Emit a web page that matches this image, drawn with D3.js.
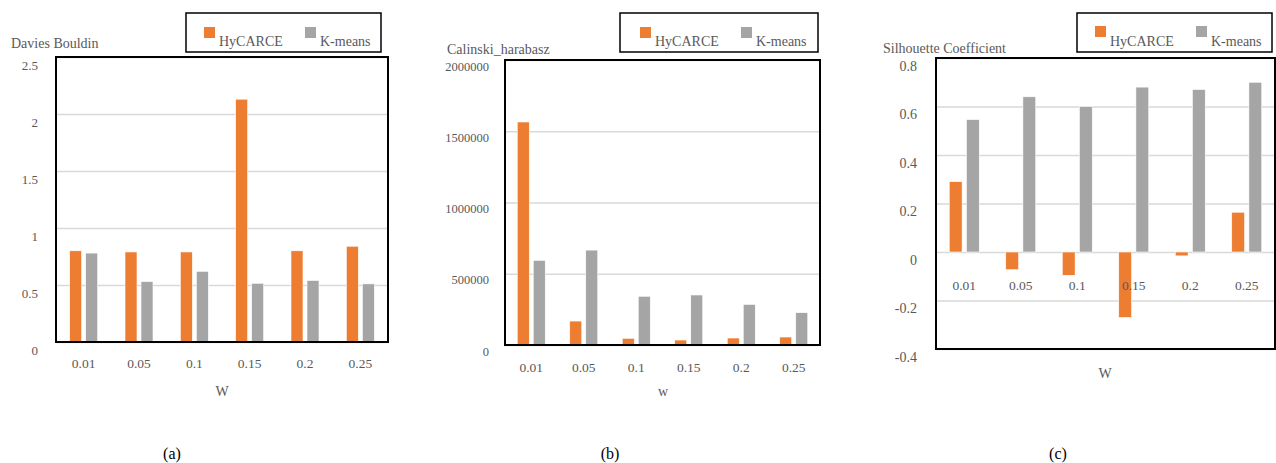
<!DOCTYPE html>
<html><head><meta charset="utf-8">
<script src="https://cdn.jsdelivr.net/npm/d3@7"></script>
<style>
html,body{margin:0;padding:0;background:#fff;}
svg{display:block;font-family:"Liberation Serif","Times New Roman",serif;}
</style></head>
<body>
<svg id="chart" width="1276" height="463"></svg>
<script>
const categories = ["0.01","0.05","0.1","0.15","0.2","0.25"];
const seriesNames = ["HyCARCE","K-means"];
const dbHyCARCE = [0.80,0.79,0.79,2.13,0.80,0.84];
const dbKmeans  = [0.78,0.53,0.62,0.515,0.54,0.51];
const chHyCARCE = [1565000,168000,47000,35000,49000,56000];
const chKmeans  = [594000,666000,342000,351000,285000,227000];
const scHyCARCE = [0.29,-0.073,-0.096,-0.27,-0.016,0.164];
const scKmeans  = [0.546,0.64,0.60,0.68,0.67,0.70];
const dbTicks = [0,0.5,1,1.5,2,2.5];
const chTicks = [0,500000,1000000,1500000,2000000];
const scTicks = [-0.4,-0.2,0,0.2,0.4,0.6,0.8];
const colors = ["#ED7D31","#A5A5A5"];

const svg = d3.select("#chart");
const txt = "#595959";

function panel(o){
  const g = svg.append("g");
  const x = d3.scaleBand().domain(categories).range([o.x0,o.x1]);
  const xi = d3.scaleBand().domain(seriesNames).range([0,o.gw]).paddingInner(0.25);
  const y = d3.scaleLinear().domain(o.domain).range([o.y1,o.y0]);
  // gridlines
  const grid = g.append("g").attr("transform",`translate(${o.x0},0)`)
    .call(d3.axisLeft(y).tickValues(o.ticks).tickSize(-(o.x1-o.x0)).tickFormat(""));
  grid.select(".domain").remove();
  grid.selectAll("line").attr("stroke","#D9D9D9").attr("stroke-width",1.6);
  // y tick labels
  const ya = g.append("g").attr("transform",`translate(${o.x0},0)`)
    .call(d3.axisLeft(y).tickValues(o.ticks).tickSize(0).tickPadding(o.tpad).tickFormat(d=>String(d)));
  ya.select(".domain").remove();
  ya.selectAll("text").attr("fill",txt).style("font-size",o.yfs+"px")
    .style("font-family","'Liberation Serif',serif").attr("dy",(0.32*o.yfs+o.yoff)+"px");
  // bars
  const data = categories.map((c,i)=>({c, v:[o.s1[i],o.s2[i]]}));
  const bg = g.selectAll(".grp").data(data).join("g")
    .attr("transform",d=>`translate(${x(d.c)+x.bandwidth()/2-o.gw/2},0)`);
  bg.selectAll("rect").data(d=>d.v.map((v,k)=>({k,v}))).join("rect")
    .attr("x",d=>xi(seriesNames[d.k]))
    .attr("width",xi.bandwidth())
    .attr("y",d=>y(Math.max(0,d.v)))
    .attr("height",d=>Math.abs(y(d.v)-y(0)))
    .attr("fill",d=>colors[d.k])
    .attr("stroke","#fff").attr("stroke-width",0.6);
  // x labels
  const xa = g.append("g").attr("transform",`translate(0,${o.xly})`)
    .call(d3.axisBottom(x).tickSize(0).tickPadding(0));
  xa.select(".domain").remove();
  xa.selectAll("text").attr("fill",txt).style("font-size","13.5px")
    .style("font-family","'Liberation Serif',serif").attr("dy","0.32em").attr("y",0);
  // plot box
  g.append("rect").attr("x",o.x0).attr("y",o.y0).attr("width",o.x1-o.x0).attr("height",o.y1-o.y0)
    .attr("fill","none").attr("stroke","#000").attr("stroke-width",2);
  // titles
  g.append("text").attr("x",o.tx).attr("y",o.ty).attr("fill",txt).style("font-size","14px").text(o.title);
  g.append("text").attr("x",o.wx).attr("y",o.wy).attr("text-anchor","middle").attr("fill",txt)
    .style("font-size","14px").text(o.wlabel);
  // legend
  g.append("rect").attr("x",o.lx0).attr("y",13).attr("width",o.lx1-o.lx0).attr("height",39)
    .attr("fill","#fff").attr("stroke","#000").attr("stroke-width",1.5);
  seriesNames.forEach((s,k)=>{
    g.append("rect").attr("x",o.lsw[k]).attr("y",o.lsy).attr("width",11).attr("height",11).attr("fill",colors[k]);
    g.append("text").attr("x",o.lsw[k]+15).attr("y",45.5).attr("fill",txt).style("font-size","14px").text(s);
  });
  // caption
  svg.append("text").attr("x",o.cx).attr("y",459).attr("text-anchor","middle").attr("fill","#000")
    .style("font-size","16px").text(o.cap);
}

panel({x0:56,x1:388,y0:57,y1:342,domain:[0,2.5],ticks:dbTicks,s1:dbHyCARCE,s2:dbKmeans,gw:28,
  tpad:18,yfs:13,yoff:8,xly:364,title:"Davies Bouldin",tx:11,ty:48,wlabel:"W",wx:222,wy:396,
  lx0:186,lx1:381,lsw:[204,305],lsy:27,cx:172,cap:"(a)"});
panel({x0:505,x1:820,y0:60,y1:345,domain:[0,2000000],ticks:chTicks,s1:chHyCARCE,s2:chKmeans,gw:28,
  tpad:16,yfs:12.5,yoff:6,xly:368,title:"Calinski_harabasz",tx:447,ty:54,wlabel:"w",wx:663,wy:396,
  lx0:620,lx1:818,lsw:[640,741],lsy:27,cx:610,cap:"(b)"});
panel({x0:936,x1:1275,y0:58,y1:349,domain:[-0.4,0.8],ticks:scTicks,s1:scHyCARCE,s2:scKmeans,gw:30,
  tpad:19,yfs:14,yoff:8,xly:286,title:"Silhouette Coefficient",tx:883,ty:53,wlabel:"W",wx:1105,wy:378,
  lx0:1077,lx1:1272,lsw:[1095,1196],lsy:26,cx:1058,cap:"(c)"});
</script>
</body></html>
